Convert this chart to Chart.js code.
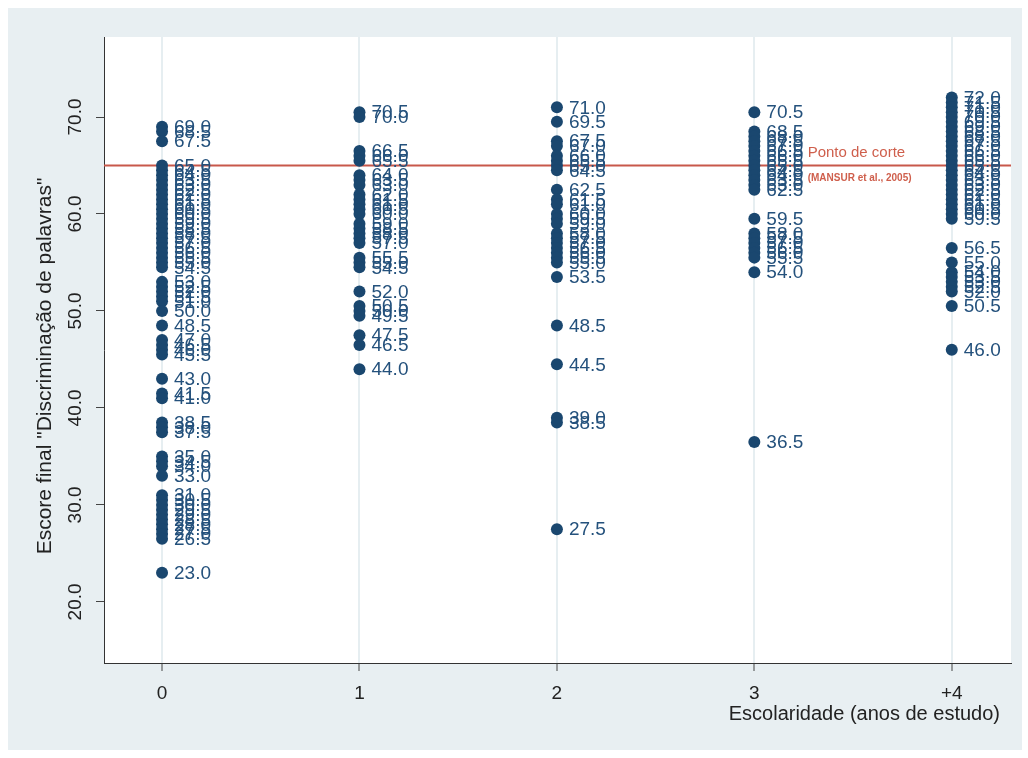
<!DOCTYPE html>
<html>
<head>
<meta charset="utf-8">
<script src="https://cdn.jsdelivr.net/npm/chart.js@4.4.1/dist/chart.umd.min.js"></script>
<style>
  html, body { margin: 0; padding: 0; background: #ffffff; }
  #wrap { width: 1028px; height: 758px; }
</style>
</head>
<body>
<div id="wrap"><canvas id="chart" width="1028" height="758"></canvas></div>
<script>
// Years of schooling groups and their axis labels
const schoolingYears = [0, 1, 2, 3, 4];
const schoolingLabels = ['0', '1', '2', '3', '+4'];
const scoreTicks = [20, 30, 40, 50, 60, 70];
const xTitle = 'Escolaridade (anos de estudo)';
const yTitle = 'Escore final "Discriminação de palavras"';

// Final word-discrimination scores per schooling group
const scores0 = [69.0, 68.5, 67.5, 65.0, 64.5, 64.0, 63.5, 63.0, 62.5, 62.0, 61.5, 61.0, 60.5, 60.0,
  59.5, 59.0, 58.5, 58.0, 57.5, 57.0, 56.5, 56.0, 55.5, 55.0, 54.5, 53.0, 52.5, 52.0, 51.5, 51.0,
  50.0, 48.5, 47.0, 46.5, 46.0, 45.5, 43.0, 41.5, 41.0, 38.5, 38.0, 37.5, 35.0, 34.5, 34.0, 33.0,
  31.0, 30.5, 30.0, 29.5, 29.0, 28.5, 28.0, 27.5, 27.0, 26.5, 23.0];
const scores1 = [70.5, 70.0, 66.5, 66.0, 65.5, 64.0, 63.5, 63.0, 62.0, 61.5, 61.0, 60.5, 60.0,
  59.0, 58.5, 58.0, 57.5, 57.0, 55.5, 55.0, 54.5, 52.0, 50.5, 50.0, 49.5, 47.5, 46.5, 44.0];
const scores2 = [71.0, 69.5, 67.5, 67.0, 66.0, 65.5, 65.0, 64.5, 62.5, 61.5, 61.0, 60.0, 59.5, 59.0,
  58.0, 57.5, 57.0, 56.5, 56.0, 55.5, 55.0, 53.5, 48.5, 44.5, 39.0, 38.5, 27.5];
const scores3 = [70.5, 68.5, 68.0, 67.5, 67.0, 66.5, 66.0, 65.5, 65.0, 64.5, 64.0, 63.5, 63.0, 62.5,
  59.5, 58.0, 57.5, 57.0, 56.5, 56.0, 55.5, 54.0, 36.5];
const scores4 = [72.0, 71.5, 71.0, 70.5, 70.0, 69.5, 69.0, 68.5, 68.0, 67.5, 67.0, 66.5, 66.0, 65.5,
  65.0, 64.5, 64.0, 63.5, 63.0, 62.5, 62.0, 61.5, 61.0, 60.5, 60.0, 59.5, 56.5, 55.0, 54.0, 53.5,
  53.0, 52.5, 52.0, 50.5, 46.0];

// Cut-off score (MANSUR et al., 2005)
const cutoffScore = 65;

const groups = [scores0, scores1, scores2, scores3, scores4];
const points = [];
groups.forEach((arr, i) => arr.forEach(v => points.push({ x: schoolingYears[i], y: v })));

const X_MIN = -0.294, X_MAX = 4.30;
const Y_MIN = 13.7, Y_MAX = 78.25;
const FONT = '"Liberation Sans", Arial, Helvetica, sans-serif';

const backgroundPlugin = {
  id: 'graphRegion',
  beforeDraw(chart) {
    const { ctx, chartArea: a } = chart;
    ctx.save();
    ctx.fillStyle = '#ffffff';
    ctx.fillRect(0, 0, chart.width, chart.height);
    ctx.fillStyle = '#e8eff2';
    ctx.fillRect(8, 8, 1014, 742);
    ctx.fillStyle = '#ffffff';
    ctx.fillRect(a.left, a.top, a.right - a.left, a.bottom - a.top);
    ctx.restore();
  }
};

// Axis titles placed the way the graph region lays them out
const axisTitlePlugin = {
  id: 'axisTitles',
  afterDraw(chart) {
    const { ctx, chartArea: a } = chart;
    ctx.save();
    ctx.fillStyle = '#222222';
    ctx.textBaseline = 'middle';
    ctx.font = '20px ' + FONT;
    ctx.textAlign = 'right';
    ctx.fillText(xTitle, a.right - 11, 714);
    ctx.translate(45, 366);
    ctx.rotate(-Math.PI / 2);
    ctx.font = '21px ' + FONT;
    ctx.textAlign = 'center';
    ctx.fillText(yTitle, 0, 0);
    ctx.restore();
  }
};

const valueLabelPlugin = {
  id: 'valueLabels',
  afterDatasetsDraw(chart) {
    const ctx = chart.ctx;
    chart.data.datasets.forEach((ds, i) => {
      if (!ds.showValues) return;
      const meta = chart.getDatasetMeta(i);
      ctx.save();
      ctx.font = '19px ' + FONT;
      ctx.fillStyle = '#24517c';
      ctx.textBaseline = 'middle';
      ctx.textAlign = 'left';
      meta.data.forEach((el, j) => {
        ctx.fillText(ds.data[j].y.toFixed(1), el.x + 12, el.y + 1);
      });
      ctx.restore();
    });
  }
};

const cutoffTextPlugin = {
  id: 'cutoffText',
  afterDatasetsDraw(chart) {
    const { ctx, scales: { x, y } } = chart;
    const px = x.getPixelForValue(3.27);
    const py = y.getPixelForValue(cutoffScore);
    ctx.save();
    ctx.fillStyle = '#cf5f4c';
    ctx.textAlign = 'left';
    ctx.textBaseline = 'middle';
    ctx.font = '15px ' + FONT;
    ctx.fillText('Ponto de corte', px, py - 13);
    ctx.font = 'bold 10px ' + FONT;
    ctx.fillText('(MANSUR et al., 2005)', px, py + 13);
    ctx.restore();
  }
};

new Chart(document.getElementById('chart'), {
  data: {
    datasets: [
      {
        type: 'scatter',
        data: points,
        showValues: true,
        backgroundColor: '#1a476f',
        borderColor: '#1a476f',
        pointRadius: 6,
        pointBorderWidth: 0,
        order: 1
      },
      {
        type: 'line',
        data: [{ x: X_MIN, y: cutoffScore }, { x: X_MAX, y: cutoffScore }],
        borderColor: '#c8584b',
        borderWidth: 2,
        pointRadius: 0,
        fill: false,
        order: 2
      }
    ]
  },
  options: {
    responsive: false,
    animation: false,
    devicePixelRatio: 1,
    layout: { padding: { top: 37, right: 17, left: 0, bottom: 0 } },
    plugins: { legend: { display: false }, tooltip: { enabled: false } },
    scales: {
      x: {
        type: 'linear',
        min: X_MIN,
        max: X_MAX,
        afterBuildTicks: s => { s.ticks = schoolingYears.map(v => ({ value: v })); },
        afterFit: s => { s.height = 95; },
        ticks: {
          callback: v => schoolingLabels[schoolingYears.indexOf(v)],
          color: '#222222',
          font: { family: FONT, size: 19 },
          padding: 11,
          maxRotation: 0
        },
        grid: {
          color: '#e6eef1',
          lineWidth: 2,
          tickColor: '#444444',
          tickWidth: 1,
          tickLength: 8
        },
        border: { color: '#333333', width: 1 },
        title: { display: false }
      },
      y: {
        type: 'linear',
        min: Y_MIN,
        max: Y_MAX,
        afterBuildTicks: s => { s.ticks = scoreTicks.map(v => ({ value: v })); },
        afterFit: s => { s.width = 104; },
        ticks: {
          callback: v => Number(v).toFixed(1),
          color: '#222222',
          font: { family: FONT, size: 19 },
          minRotation: 90,
          maxRotation: 90,
          crossAlign: 'center',
          padding: 2
        },
        grid: {
          drawOnChartArea: false,
          tickColor: '#444444',
          tickWidth: 1,
          tickLength: 8
        },
        border: { color: '#333333', width: 1 },
        title: { display: false }
      }
    }
  },
  plugins: [backgroundPlugin, valueLabelPlugin, cutoffTextPlugin, axisTitlePlugin]
});
</script>
</body>
</html>
